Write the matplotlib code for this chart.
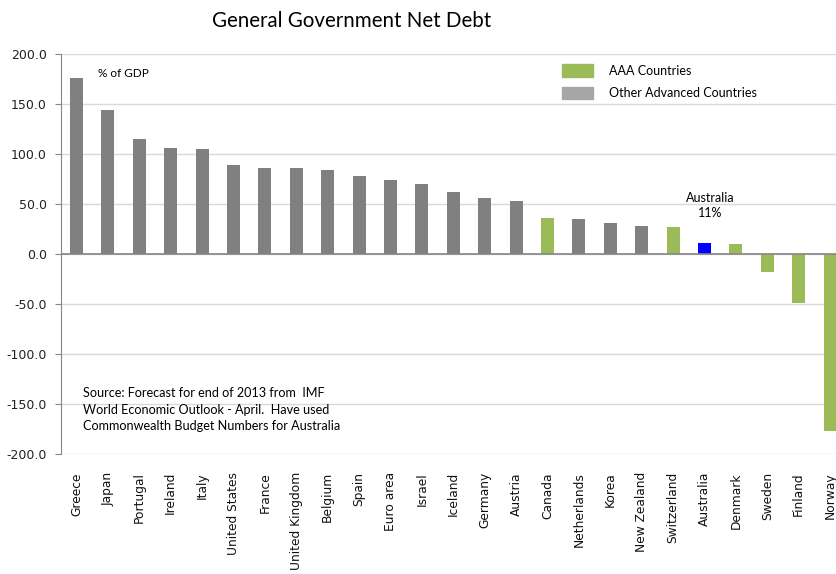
import matplotlib
matplotlib.use("Agg")
import matplotlib.pyplot as plt
from matplotlib.patches import Patch

countries = ["Greece", "Japan", "Portugal", "Ireland", "Italy", "United States",
             "France", "United Kingdom", "Belgium", "Spain", "Euro area", "Israel",
             "Iceland", "Germany", "Austria", "Canada", "Netherlands", "Korea",
             "New Zealand", "Switzerland", "Australia", "Denmark", "Sweden",
             "Finland", "Norway"]
net_debt = [176.0, 143.7, 115.0, 106.3, 105.3, 88.7, 86.0, 86.0, 84.0, 78.3,
            73.7, 70.0, 61.7, 56.0, 53.3, 36.0, 34.7, 31.0, 28.3, 27.0, 11.3,
            10.3, -18.0, -48.7, -176.7]
group = ["other"] * 15 + ["aaa", "other", "other", "other", "aaa", "aus",
                          "aaa", "aaa", "aaa", "aaa"]
y_ticks = [-200, -150, -100, -50, 0, 50, 100, 150, 200]

GREY = "#808080"
GREEN = "#9BBB59"
BLUE = "#0000FF"
color_of = {"other": GREY, "aaa": GREEN, "aus": BLUE}
LABEL_FONT = ["Lato", "DejaVu Sans"]

W, H = 837, 574
fig = plt.figure(figsize=(W / 100, H / 100), dpi=100)
# axes spans past the right edge so the Norway bar is clipped like the source
ax = fig.add_axes([60.8 / W, 120 / H, 785 / W, 400 / H])

xs = list(range(len(countries)))
ax.bar(xs, net_debt, width=0.41, color=[color_of[g] for g in group], zorder=3)

ax.set_xlim(-0.5, len(countries) - 0.5)
ax.set_ylim(-200, 200)
ax.set_yticks(y_ticks)
ax.set_yticklabels([f"{v:.1f}" for v in y_ticks], fontsize=9, color="#222222")
ax.yaxis.grid(True, color="#D9D9D9", linewidth=1, zorder=0)
ax.axhline(0, color="#868686", linewidth=1.2, zorder=4)

ax.set_xticks(xs)
ax.set_xticklabels(countries, rotation=90, fontsize=8.8, color="#111111")
ax.tick_params(axis="x", length=0, pad=13)
ax.tick_params(axis="y", length=4, color="#868686", pad=6)

for s in ["top", "right", "bottom"]:
    ax.spines[s].set_visible(False)
ax.spines["left"].set_color("#868686")

fig.text(351.5 / W, 1 - 21 / H, "General Government Net Debt", ha="center",
         va="center", fontsize=14.8, family=LABEL_FONT)

ax.text(0.68, 180, "% of GDP", ha="left", va="center", fontsize=8.5,
        family=LABEL_FONT)
ax.text(20.17, 48.5, "Australia\n11%", ha="center", va="center", fontsize=9,
        family=LABEL_FONT, linespacing=1.35)
ax.text(0.2, -133, "Source: Forecast for end of 2013 from  IMF\n"
        "World Economic Outlook - April.  Have used\n"
        "Commonwealth Budget Numbers for Australia",
        ha="left", va="top", fontsize=9.1, family=LABEL_FONT, linespacing=1.45)

handles = [Patch(color=GREEN, label="AAA Countries"),
           Patch(color="#A6A6A6", label="Other Advanced Countries")]
fig.legend(handles=handles, loc="upper left", bbox_to_anchor=(551 / W, 1 - 53 / H),
           frameon=False, handlelength=2.45, handleheight=1.15, handletextpad=1.3,
           labelspacing=0.8, prop={"family": LABEL_FONT, "size": 9})

fig.savefig("out.png", dpi=100)
